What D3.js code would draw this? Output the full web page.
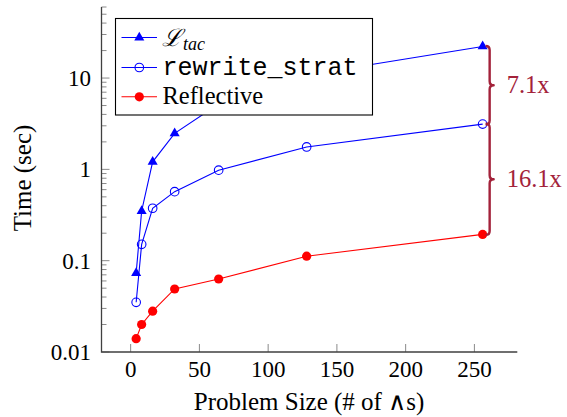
<!DOCTYPE html>
<html>
<head>
<meta charset="utf-8">
<script src="https://cdn.jsdelivr.net/npm/d3@7"></script>
<style>
  html, body { margin: 0; padding: 0; background: #fff; }
  svg { display: block; }
  text { font-family: "Liberation Serif", "Times New Roman", serif; fill: #000; }
</style>
</head>
<body>
<svg id="chart" width="567" height="417"></svg>
<script>
// ---- data ----
const sizes = [4, 8, 16, 32, 64, 128, 256];
const ltacTimes = [0.073, 0.35, 1.21, 2.48, 5.2, 10.8, 22.2];
const rewriteTimes = [0.035, 0.151, 0.375, 0.57, 0.98, 1.76, 3.13];
const reflectiveTimes = [0.014, 0.020, 0.028, 0.049, 0.063, 0.112, 0.194];
const xTicks = [0, 50, 100, 150, 200, 250];
const yTicks = [0.01, 0.1, 1, 10];
const yTickLabels = ["0.01", "0.1", "1", "10"];
const speedupLabels = ["7.1x", "16.1x"];
const seriesNames = ["rewrite_strat", "Reflective"];

// ---- layout ----
const svg = d3.select("#chart");
const x = d3.scaleLinear().domain([-21.2, 281.2]).range([101.5, 517.3]);
const y = d3.scaleLog().domain([0.01, 60]).range([352, 7]);
const braceColor = "#a3223a";

// minor ticks
const minorTicks = [];
[0.01, 0.1, 1, 10].forEach(d => { for (let k = 2; k <= 9; k++) { const v = d * k; if (v <= 60) minorTicks.push(v); } });

const gAxis = svg.append("g");
gAxis.selectAll(".ymin").data(minorTicks).enter().append("line")
  .attr("x1", x.range()[0]).attr("x2", x.range()[0] + 5)
  .attr("y1", d => y(d)).attr("y2", d => y(d))
  .attr("stroke", "#8a8a8a").attr("stroke-width", 1);
gAxis.selectAll(".ymaj").data(yTicks).enter().append("line")
  .attr("x1", x.range()[0]).attr("x2", x.range()[0] + 8)
  .attr("y1", d => y(d)).attr("y2", d => y(d))
  .attr("stroke", "#8a8a8a").attr("stroke-width", 1);
gAxis.selectAll(".xt").data(xTicks).enter().append("line")
  .attr("x1", d => x(d)).attr("x2", d => x(d))
  .attr("y1", y.range()[0]).attr("y2", y.range()[0] - 8)
  .attr("stroke", "#8a8a8a").attr("stroke-width", 1);
gAxis.append("path")
  .attr("d", `M${x.range()[0]},${y.range()[1]} L${x.range()[0]},${y.range()[0]} L${x.range()[1]},${y.range()[0]}`)
  .attr("fill", "none").attr("stroke", "#404040").attr("stroke-width", 1.3);

gAxis.selectAll(".xl").data(xTicks).enter().append("text")
  .attr("x", d => x(d)).attr("y", 377).attr("text-anchor", "middle")
  .attr("font-size", 23).text(d => d);
gAxis.selectAll(".yl").data(yTicks).enter().append("text")
  .attr("x", 91).attr("y", d => y(d) + 8).attr("text-anchor", "end")
  .attr("font-size", 23).text((d, i) => yTickLabels[i]);

svg.append("text").attr("x", 309).attr("y", 410).attr("text-anchor", "middle")
  .attr("font-size", 25).text("Problem Size (# of \u2227s)");
svg.append("text").attr("transform", "translate(31,178) rotate(-90)")
  .attr("text-anchor", "middle").attr("font-size", 25).text("Time (sec)");

// series
const line = d3.line().x((d, i) => x(sizes[i])).y(d => y(d));
function drawMarker(g, cx, cy, color, marker) {
  if (marker === "tri") {
    g.append("path").attr("d", d3.symbol().type(d3.symbolTriangle).size(44)())
      .attr("transform", `translate(${cx},${cy})`).attr("fill", color);
  } else if (marker === "open") {
    g.append("circle").attr("cx", cx).attr("cy", cy).attr("r", 4.3)
      .attr("fill", "none").attr("stroke", color).attr("stroke-width", 1.1);
  } else {
    g.append("circle").attr("cx", cx).attr("cy", cy).attr("r", 4.6).attr("fill", color);
  }
}
function drawSeries(vals, color, marker) {
  svg.append("path").datum(vals).attr("d", line)
    .attr("fill", "none").attr("stroke", color).attr("stroke-width", 1.1);
  const g = svg.append("g");
  vals.forEach((v, i) => drawMarker(g, x(sizes[i]), y(v), color, marker));
}
drawSeries(reflectiveTimes, "#ff0000", "dot");
drawSeries(rewriteTimes, "#0000ff", "open");
drawSeries(ltacTimes, "#0000ff", "tri");

// legend
const leg = svg.append("g");
leg.append("rect").attr("x", 115.5).attr("y", 18.5).attr("width", 257).attr("height", 96.5)
  .attr("fill", "#fff").attr("stroke", "#000").attr("stroke-width", 1.1);
const rows = [
  { color: "#0000ff", marker: "tri", cy: 37.5 },
  { color: "#0000ff", marker: "open", cy: 67.5 },
  { color: "#ff0000", marker: "dot", cy: 96.8 }
];
rows.forEach(r => {
  leg.append("line").attr("x1", 121.5).attr("x2", 157).attr("y1", r.cy).attr("y2", r.cy)
    .attr("stroke", r.color).attr("stroke-width", 1.1);
  drawMarker(leg, 139.3, r.cy, r.color, r.marker);
});
const t1 = leg.append("text").attr("x", 162).attr("y", rows[0].cy + 8);
t1.append("tspan").style("font-family", "'DejaVu Serif', serif").attr("font-style", "italic").attr("font-size", 24).text("\u2112");
t1.append("tspan").attr("font-style", "italic").attr("font-size", 18).attr("dy", 4).attr("dx", 1).text("tac");
leg.append("text").attr("x", 162.5).attr("y", rows[1].cy + 7)
  .attr("font-size", 25).style("font-family", "'Liberation Mono', monospace")
  .text(seriesNames[0]);
leg.append("text").attr("x", 162.5).attr("y", rows[2].cy + 7.5).attr("font-size", 24.5).text(seriesNames[1]);

// braces
const last = sizes.length - 1;
const bx = x(sizes[last]) + 3;
const h = 4;
function brace(y1, y2) {
  const ym = (y1 + y2) / 2;
  return `M${bx},${y1} Q${bx + h},${y1} ${bx + h},${y1 + h} L${bx + h},${ym - h} Q${bx + h},${ym} ${bx + 2 * h},${ym} ` +
         `Q${bx + h},${ym} ${bx + h},${ym + h} L${bx + h},${y2 - h} Q${bx + h},${y2} ${bx},${y2}`;
}
const pairs = [[ltacTimes[last], rewriteTimes[last]], [rewriteTimes[last], reflectiveTimes[last]]];
pairs.forEach((p, i) => {
  const y1 = y(p[0]) - 0.5, y2 = y(p[1]) + 0.5;
  svg.append("path").attr("d", brace(y1, y2)).attr("fill", "none")
    .attr("stroke", braceColor).attr("stroke-width", 2.4).attr("stroke-linejoin", "round");
  svg.append("text").attr("x", bx + 21).attr("y", (y1 + y2) / 2 + 8)
    .attr("font-size", 24.5).style("fill", braceColor).text(speedupLabels[i]);
});
</script>
</body>
</html>
